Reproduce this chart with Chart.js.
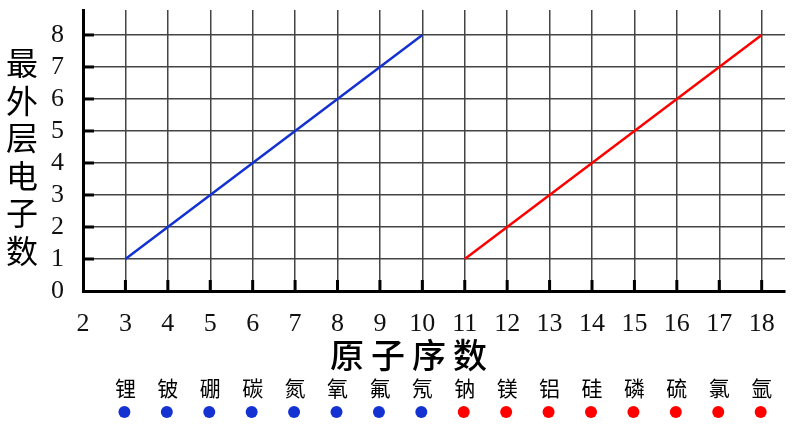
<!DOCTYPE html>
<html>
<head>
<meta charset="utf-8">
<script src="https://cdn.jsdelivr.net/npm/chart.js@4/dist/chart.umd.min.js"></script>
<style>
html, body { margin: 0; padding: 0; background: #fff; }
</style>
</head>
<body>
<canvas id="myChart" width="795" height="425"></canvas>
<script>
// datos
var numerosLi = [3, 4, 5, 6, 7, 8, 9, 10];
var electronesLi = [1, 2, 3, 4, 5, 6, 7, 8];
var numerosNa = [11, 12, 13, 14, 15, 16, 17, 18];
var electronesNa = [1, 2, 3, 4, 5, 6, 7, 8];
var elementos = ['锂', '铍', '硼', '碳', '氮', '氧', '氟', '氖', '钠', '镁', '铝', '硅', '磷', '硫', '氯', '氩'];
var numerosElementos = [3, 4, 5, 6, 7, 8, 9, 10, 11, 12, 13, 14, 15, 16, 17, 18];
var ticksX = [2, 3, 4, 5, 6, 7, 8, 9, 10, 11, 12, 13, 14, 15, 16, 17, 18];
var ticksY = [0, 1, 2, 3, 4, 5, 6, 7, 8];
var tituloY = '最外层电子数';
var tituloX = '原子序数';

var azul = 'rgb(20, 50, 210)';
var rojo = 'rgb(255, 0, 0)';
var fuenteNum = '"Liberation Serif", "DejaVu Serif", serif';
var fuenteCJK = '"Noto Sans CJK SC", sans-serif';

function puntos(xs, ys) {
    var res = [];
    for (var i = 0; i < xs.length; i++) {
        res.push({ x: xs[i], y: ys[i] });
    }
    return res;
}

function fijarTicks(lista) {
    return function (axis) {
        axis.ticks = lista.map(function (v) { return { value: v }; });
    };
}

// dibuja marcas gruesas, titulos y nombres de elementos
var extras = {
    id: 'extras',
    afterDraw: function (chart) {
        var ctx = chart.ctx;
        var xs = chart.scales.x;
        var ys = chart.scales.y;
        var area = chart.chartArea;
        ctx.save();

        // marcas de los ejes
        ctx.strokeStyle = '#000';
        ctx.lineWidth = 3;
        for (var i = 1; i < ticksX.length; i++) {
            var px = xs.getPixelForValue(ticksX[i]);
            ctx.beginPath();
            ctx.moveTo(px, area.bottom);
            ctx.lineTo(px, area.bottom - 11);
            ctx.stroke();
        }
        for (var k = 1; k < ticksY.length; k++) {
            var py = ys.getPixelForValue(ticksY[k]);
            ctx.beginPath();
            ctx.moveTo(area.left, py);
            ctx.lineTo(area.left + 11, py);
            ctx.stroke();
        }

        // titulo eje y (vertical)
        ctx.fillStyle = '#000';
        ctx.textAlign = 'center';
        ctx.textBaseline = 'middle';
        ctx.font = '32px ' + fuenteCJK;
        for (var c = 0; c < tituloY.length; c++) {
            ctx.fillText(tituloY[c], 22, 63 + c * 37.5);
        }

        // titulo eje x
        ctx.font = '500 34px ' + fuenteCJK;
        var chars = tituloX.split('');
        for (var j = 0; j < chars.length; j++) {
            ctx.fillText(chars[j], 347 + j * 41, 355);
        }

        // nombres y puntos
        ctx.font = '21px ' + fuenteCJK;
        for (var e = 0; e < elementos.length; e++) {
            var ex = xs.getPixelForValue(numerosElementos[e]);
            ctx.fillStyle = '#000';
            ctx.fillText(elementos[e], ex, 388);
            ctx.fillStyle = numerosElementos[e] <= 10 ? azul : rojo;
            ctx.beginPath();
            ctx.arc(ex - 1, 412, 6, 0, Math.PI * 2);
            ctx.fill();
        }
        ctx.restore();
    }
};

var ctx = document.getElementById('myChart').getContext('2d');
var chart = new Chart(ctx, {
    type: 'line',
    data: {
        datasets: [{
            data: puntos(numerosLi, electronesLi),
            borderColor: azul,
            borderWidth: 2.5,
            pointRadius: 0,
            fill: false
        }, {
            data: puntos(numerosNa, electronesNa),
            borderColor: rojo,
            borderWidth: 2.5,
            pointRadius: 0,
            fill: false
        }]
    },
    options: {
        responsive: false,
        animation: false,
        layout: { padding: { top: 10, right: 10, left: 0, bottom: 0 } },
        plugins: {
            legend: { display: false },
            tooltip: { enabled: false }
        },
        scales: {
            x: {
                type: 'linear',
                min: 2,
                max: 18.55,
                afterBuildTicks: fijarTicks(ticksX),
                afterFit: function (axis) {
                    axis.height = 134;
                    axis.paddingLeft = 0;
                    axis.paddingRight = 0;
                },
                ticks: {
                    color: '#111',
                    padding: 18,
                    maxRotation: 0,
                    autoSkip: false,
                    font: { family: fuenteNum, size: 26 }
                },
                grid: { color: '#444', lineWidth: 1.5, drawTicks: false },
                border: { display: true, color: '#000', width: 3 }
            },
            y: {
                min: 0,
                max: 8.78,
                afterBuildTicks: fijarTicks(ticksY),
                afterFit: function (axis) {
                    axis.width = 83;
                    axis.paddingTop = 0;
                    axis.paddingBottom = 0;
                },
                ticks: {
                    color: '#111',
                    padding: 19,
                    autoSkip: false,
                    font: { family: fuenteNum, size: 26 }
                },
                grid: { color: '#444', lineWidth: 1.5, drawTicks: false },
                border: { display: true, color: '#000', width: 3 }
            }
        }
    },
    plugins: [extras]
});
</script>
</body>
</html>
